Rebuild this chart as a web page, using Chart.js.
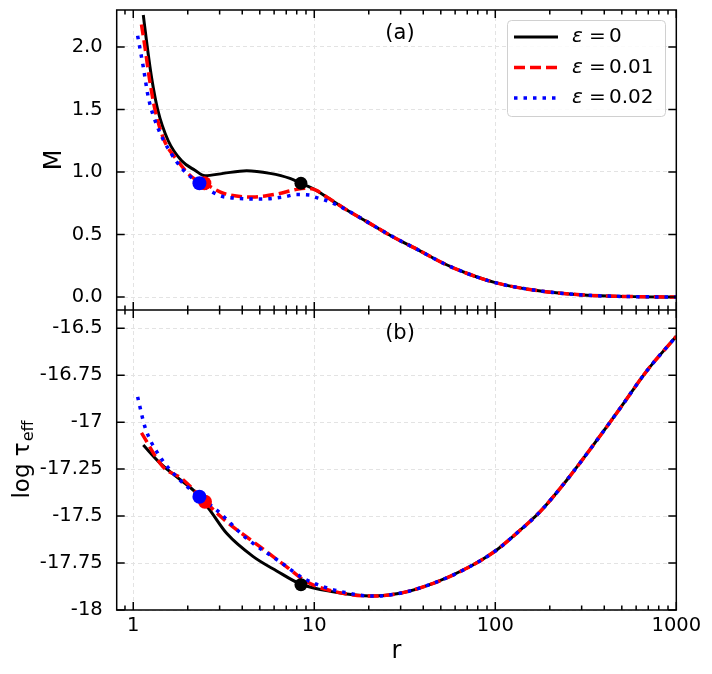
<!DOCTYPE html>
<html>
<head>
<meta charset="utf-8">
<script src="https://cdn.jsdelivr.net/npm/chart.js@4.4.0/dist/chart.umd.min.js"></script>
<style>
  html, body { margin: 0; padding: 0; background: #fff; }
  #wrap { position: relative; width: 712px; height: 674px; }
  #topBox { position: absolute; left: 0; top: 0; width: 712px; height: 310px; }
  #botBox { position: absolute; left: 0; top: 310px; width: 712px; height: 364px; }
</style>
</head>
<body>
<div id="wrap">
  <div id="topBox"><canvas id="topChart" width="712" height="310"></canvas></div>
  <div id="botBox"><canvas id="botChart" width="712" height="364"></canvas></div>
</div>
<script>
// ============================
// DATA
// ============================
const epsLabels = ["0", "0.01", "0.02"];

// panel (a): M(r)
const rM0 = [1.136, 1.195, 1.264, 1.364, 1.56, 1.85, 2.19, 2.49, 3.14, 4.23, 5.69, 7.34, 8.44, 10, 11.7];
const m0  = [2.256, 2.0, 1.75, 1.5, 1.25, 1.09, 1.014, 0.97, 0.989, 1.01, 0.989, 0.949, 0.91, 0.862, 0.80];
const rM1 = [1.11, 1.16, 1.23, 1.318, 1.48, 1.737, 2.1, 2.47, 3.14, 4.6, 6.2, 8.0, 9.07, 10.2, 11.7];
const m1  = [2.18, 2.0, 1.74, 1.5, 1.256, 1.10, 0.962, 0.91, 0.83, 0.80, 0.824, 0.861, 0.87, 0.855, 0.80];
const rM2 = [1.057, 1.136, 1.21, 1.347, 1.595, 1.89, 2.32, 3.21, 5.23, 6.74, 8.0, 9.47, 10.05, 11.46, 13.0];
const m2  = [2.09, 1.84, 1.60, 1.376, 1.163, 1.016, 0.91, 0.80, 0.784, 0.80, 0.82, 0.816, 0.80, 0.776, 0.744];
const rTailM = [15.7, 19.5, 27.3, 36.8, 51.6, 69.5, 100, 162, 306, 577, 1000];
const mTail  = [0.682, 0.603, 0.48, 0.383, 0.27, 0.19, 0.115, 0.056, 0.016, 0.003, 0.0];

// panel (b): log tau_eff(r)
const rT0  = [1.136, 1.405, 1.737, 2.24, 2.65, 3.28, 4.6, 6.2, 8.44, 12.7];
const tau0 = [-17.122, -17.218, -17.291, -17.379, -17.468, -17.592, -17.716, -17.792, -17.863, -17.903];
const rT1  = [1.11, 1.46, 1.85, 2.49, 3.28, 5.01, 7.04, 9.08, 12.7];
const tau1 = [-17.057, -17.238, -17.30, -17.423, -17.53, -17.663, -17.77, -17.85, -17.90];
const rT2  = [1.057, 1.16, 1.374, 1.737, 2.32, 2.89, 4.23, 6.46, 8.7, 11.2, 14.5];
const tau2 = [-16.865, -17.025, -17.17, -17.291, -17.397, -17.468, -17.619, -17.743, -17.831, -17.876, -17.905];
const rTailT  = [20.8, 29.8, 45.4, 69.5, 100, 131, 176.6, 248, 348, 488.6, 686, 1000];
const tauTail = [-17.926, -17.911, -17.858, -17.778, -17.686, -17.592, -17.477, -17.309, -17.122, -16.927, -16.728, -16.543];

// transition points (one per series)
const rDotM  = [8.44, 2.47, 2.32];
const mDot   = [0.91, 0.91, 0.91];
const rDotT  = [8.44, 2.49, 2.32];
const tauDot = [-17.865, -17.424, -17.397];

// ticks
const rTicks = [1, 10, 100, 1000];
const rTickLabels = ["1", "10", "100", "1000"];
const mTicks = [0, 0.5, 1, 1.5, 2];
const mTickLabels = ["0.0", "0.5", "1.0", "1.5", "2.0"];
const tauTicks = [-18, -17.75, -17.5, -17.25, -17, -16.75, -16.5];
const tauTickLabels = ["-18", "-17.75", "-17.5", "-17.25", "-17", "-16.75", "-16.5"];

// ============================
// STYLE
// ============================
const FONT = "'DejaVu Sans', sans-serif";
const colors = ["#000000", "#ff0000", "#0000ff"];
const widths = [3, 3.5, 3.5];
const dashes = [[], [11, 5], [3.5, 6]];
const GRID = "#e3e3e3";

function pts(xs, ys) {
  return xs.map((r, i) => ({ x: r, y: ys[i] }));
}

function lineSet(i, data) {
  return {
    label: "ε = " + epsLabels[i],
    data: data,
    borderColor: colors[i],
    borderWidth: widths[i],
    borderDash: dashes[i],
    pointRadius: 0,
    fill: false,
    cubicInterpolationMode: "monotone",
    order: 3 - i
  };
}

function dotSet(xs, ys) {
  return {
    label: "dots",
    data: pts(xs, ys),
    showLine: false,
    pointRadius: [6.5, 7, 7],
    pointBackgroundColor: colors,
    pointBorderWidth: 0,
    order: -1
  };
}

// ============================
// PLUGINS
// ============================
// frame + inward ticks on all four sides
const frameTicks = {
  id: "frameTicks",
  afterDraw(chart) {
    const { ctx, chartArea: a, scales: { x, y } } = chart;
    ctx.save();
    ctx.strokeStyle = "#000";
    ctx.lineWidth = 1.5;
    ctx.strokeRect(a.left, a.top, a.right - a.left, a.bottom - a.top);
    ctx.beginPath();
    for (let d = -1; d <= 3; d++) {
      for (let k = 1; k <= 9; k++) {
        const v = k * Math.pow(10, d);
        if (v < x.min || v > x.max * 1.0001) continue;
        const px = x.getPixelForValue(v);
        const len = k === 1 ? 8 : 4.5;
        ctx.moveTo(px, a.top); ctx.lineTo(px, a.top + len);
        ctx.moveTo(px, a.bottom); ctx.lineTo(px, a.bottom - len);
      }
    }
    y.ticks.forEach(t => {
      const py = y.getPixelForValue(t.value);
      ctx.moveTo(a.left, py); ctx.lineTo(a.left + 8, py);
      ctx.moveTo(a.right, py); ctx.lineTo(a.right - 8, py);
    });
    ctx.stroke();
    ctx.restore();
  }
};

// "(a)" / "(b)"
const panelTag = {
  id: "panelTag",
  afterDraw(chart, args, opts) {
    const { ctx, chartArea: a } = chart;
    ctx.save();
    ctx.fillStyle = "#000";
    ctx.font = "21px " + FONT;
    ctx.textAlign = "center";
    ctx.textBaseline = "middle";
    ctx.fillText(opts.text, 400, a.top + 24);
    ctx.restore();
  }
};

// legend box inside panel (a)
const legendBox = {
  id: "legendBox",
  afterDraw(chart) {
    const ctx = chart.ctx;
    ctx.save();
    ctx.fillStyle = "rgba(255,255,255,0.85)";
    ctx.strokeStyle = "#d0d0d0";
    ctx.lineWidth = 1;
    ctx.beginPath();
    ctx.roundRect(507.5, 20.5, 158, 96, 4);
    ctx.fill();
    ctx.stroke();
    const rows = [37, 67.5, 98];
    chart.data.datasets.slice(0, 3).forEach((ds, i) => {
      const yy = rows[i];
      ctx.strokeStyle = ds.borderColor;
      ctx.lineWidth = ds.borderWidth;
      ctx.setLineDash(ds.borderDash);
      ctx.beginPath();
      ctx.moveTo(514, yy);
      ctx.lineTo(558, yy);
      ctx.stroke();
      ctx.setLineDash([]);
      ctx.fillStyle = "#000";
      ctx.textBaseline = "middle";
      ctx.textAlign = "left";
      ctx.font = "italic 20px " + FONT;
      ctx.fillText("ε", 572, yy);
      ctx.font = "20px " + FONT;
      ctx.fillText("=", 589, yy);
      ctx.fillText(epsLabels[i], 609, yy);
    });
    ctx.restore();
  }
};

// y label with subscript for panel (b)
const tauTitle = {
  id: "tauTitle",
  afterDraw(chart) {
    const { ctx, chartArea: a } = chart;
    ctx.save();
    ctx.translate(23, (a.top + a.bottom) / 2);
    ctx.rotate(-Math.PI / 2);
    ctx.fillStyle = "#000";
    ctx.textBaseline = "middle";
    ctx.textAlign = "left";
    ctx.font = "23px " + FONT;
    const main = "log τ";
    const w1 = ctx.measureText(main).width;
    ctx.font = "16px " + FONT;
    const w2 = ctx.measureText("eff").width;
    const x0 = -(w1 + w2) / 2;
    ctx.font = "23px " + FONT;
    ctx.fillText(main, x0, 0);
    ctx.font = "16px " + FONT;
    ctx.fillText("eff", x0 + w1 + 1, 6);
    ctx.restore();
  }
};

// ============================
// CHARTS
// ============================
const AXIS_W = 116.7;
const RIGHT_PAD = 35.7;

function xScale(showLabels) {
  return {
    type: "logarithmic",
    min: 0.81,
    max: 1000,
    afterBuildTicks: s => { s.ticks = rTicks.map(v => ({ value: v })); },
    afterFit: s => {
      s.height = showLabels ? 64 : 0;
      s.paddingLeft = 0; s.paddingRight = 0;
    },
    ticks: {
      display: showLabels,
      autoSkip: false,
      maxRotation: 0,
      padding: 4,
      color: "#000",
      font: { family: FONT, size: 19.5 },
      callback: (v, i) => rTickLabels[i]
    },
    grid: { color: GRID, lineWidth: 1, drawTicks: false },
    border: { display: false, dash: [4, 3] },
    title: {
      display: showLabels,
      text: "r",
      color: "#000",
      font: { family: FONT, size: 24 },
      padding: { top: 0, bottom: 8 }
    }
  };
}

function yScale(min, max, ticks, labels, title) {
  return {
    min: min,
    max: max,
    afterBuildTicks: s => { s.ticks = ticks.map(v => ({ value: v })); },
    afterFit: s => {
      s.width = AXIS_W;
      s.paddingTop = 0; s.paddingBottom = 0;
    },
    ticks: {
      autoSkip: false,
      padding: 14,
      color: "#000",
      font: { family: FONT, size: 19.5 },
      callback: (v, i) => labels[i]
    },
    grid: { color: GRID, lineWidth: 1, drawTicks: false },
    border: { display: false, dash: [4, 3] },
    title: title
  };
}

const common = {
  animation: false,
  responsive: false,
  devicePixelRatio: 1,
  plugins: { legend: { display: false }, tooltip: { enabled: false } }
};

new Chart(document.getElementById("topChart"), {
  type: "line",
  data: {
    datasets: [
      lineSet(0, pts(rM0, m0).concat(pts(rTailM, mTail))),
      lineSet(1, pts(rM1, m1).concat(pts(rTailM, mTail))),
      lineSet(2, pts(rM2, m2).concat(pts(rTailM, mTail))),
      dotSet(rDotM, mDot)
    ]
  },
  options: Object.assign({}, common, {
    layout: { autoPadding: false, padding: { top: 10, right: RIGHT_PAD, bottom: 0, left: 0 } },
    scales: {
      x: xScale(false),
      y: yScale(-0.104, 2.296, mTicks, mTickLabels, {
        display: true,
        text: "M",
        color: "#000",
        font: { family: FONT, size: 24 },
        padding: { top: 40, bottom: 0 }
      })
    },
    plugins: Object.assign({}, common.plugins, { panelTag: { text: "(a)" } })
  }),
  plugins: [frameTicks, panelTag, legendBox]
});

new Chart(document.getElementById("botChart"), {
  type: "line",
  data: {
    datasets: [
      lineSet(0, pts(rT0, tau0).concat(pts(rTailT, tauTail))),
      lineSet(1, pts(rT1, tau1).concat(pts(rTailT, tauTail))),
      lineSet(2, pts(rT2, tau2).concat(pts(rTailT, tauTail))),
      dotSet(rDotT, tauDot)
    ]
  },
  options: Object.assign({}, common, {
    layout: { autoPadding: false, padding: { top: 0, right: RIGHT_PAD, bottom: 0, left: 0 } },
    scales: {
      x: xScale(true),
      y: yScale(-18, -16.403, tauTicks, tauTickLabels, { display: false })
    },
    plugins: Object.assign({}, common.plugins, { panelTag: { text: "(b)" } })
  }),
  plugins: [frameTicks, panelTag, tauTitle]
});
</script>
</body>
</html>
